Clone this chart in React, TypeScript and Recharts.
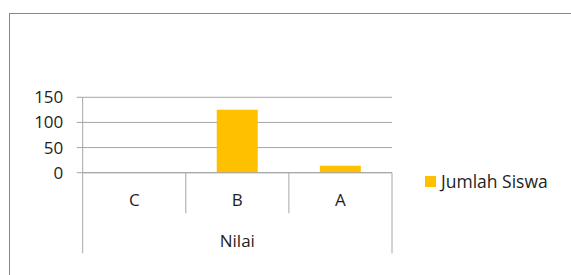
import React from 'react';
import { BarChart, Bar, XAxis, YAxis, CartesianGrid, Legend } from 'recharts';

const categories = ['C', 'B', 'A'];
const jumlahSiswa = [0, 125, 14];
const yTicks = [0, 50, 100, 150];
const seriesName = 'Jumlah Siswa';
const axisTitle = 'Nilai';

const data = categories.map((c, i) => ({ nilai: c, jumlah: jumlahSiswa[i] }));

const W = 571;
const H = 275;
const Y_AXIS_W = 30;
const MARGIN = { top: 97.3, right: 179, bottom: 12.3, left: 52.7 };
const X_AXIS_H = 90;
const PLOT_W = W - MARGIN.left - MARGIN.right - Y_AXIS_W;

const FONT = '"Open Sans", sans-serif';
const FONT_SIZE = 17;
const TEXT = '#1e1e1e';
const GRID = '#a6a6a6';
const BAR = '#FFC000';

function CategoryTick(props: any) {
  const { x, y, payload, index } = props;
  const bw = PLOT_W / categories.length;
  const n = categories.length;
  return (
    <g>
      {index > 0 && (
        <line x1={x - bw / 2} x2={x - bw / 2} y1={y} y2={y + 40.6} stroke={GRID} strokeWidth={1} />
      )}
      {index === 0 && (
        <line x1={x - bw / 2} x2={x - bw / 2} y1={y} y2={y + 80.6} stroke={GRID} strokeWidth={1} />
      )}
      {index === n - 1 && (
        <line x1={x + bw / 2} x2={x + bw / 2} y1={y} y2={y + 80.6} stroke={GRID} strokeWidth={1} />
      )}
      <text
        x={x}
        y={y + 27.3}
        dy="0.36em"
        textAnchor="middle"
        fill={TEXT}
        fontSize={FONT_SIZE}
        fontFamily={FONT}
      >
        {payload.value}
      </text>
      {index === Math.floor(n / 2) && (
        <text
          x={x}
          y={y + 68}
          dy="0.36em"
          textAnchor="middle"
          fill={TEXT}
          fontSize={FONT_SIZE}
          fontFamily={FONT}
        >
          {axisTitle}
        </text>
      )}
    </g>
  );
}

function LegendContent(props: any) {
  const items = props.payload || [];
  return (
    <div style={{ display: 'flex', flexDirection: 'column' }}>
      {items.map((it: any) => (
        <div key={it.value} style={{ display: 'flex', alignItems: 'center' }}>
          <span style={{ display: 'inline-block', width: 11, height: 11, background: it.color, marginRight: 5 }} />
          <span style={{ fontFamily: FONT, fontSize: 17.5, color: TEXT, lineHeight: '20px' }}>{it.value}</span>
        </div>
      ))}
    </div>
  );
}

export default function App() {
  return (
    <div style={{ position: 'absolute', left: 0, top: 0, width: W, height: H, overflow: 'hidden', background: '#fff' }}>
      <div
        style={{
          position: 'absolute',
          left: 9,
          top: 13,
          width: 800,
          height: 500,
          border: '1px solid #878787',
          boxSizing: 'border-box',
        }}
      />
      <div style={{ position: 'absolute', left: 0, top: 0 }}>
        <BarChart width={W} height={H} data={data} margin={MARGIN} barCategoryGap="30%">
          <CartesianGrid horizontal vertical={false} stroke={GRID} />
          <XAxis
            dataKey="nilai"
            height={X_AXIS_H}
            axisLine={{ stroke: GRID }}
            tickLine={false}
            tickSize={0}
            tickMargin={0}
            interval={0}
            tick={<CategoryTick />}
          />
          <YAxis
            width={Y_AXIS_W}
            domain={[0, 150]}
            ticks={yTicks}
            axisLine={{ stroke: GRID }}
            tickLine={{ stroke: GRID }}
            tickSize={6}
            tickMargin={13.4}
            tick={{ fill: TEXT, fontSize: FONT_SIZE, fontFamily: FONT }}
          />
          <Legend
            layout="horizontal"
            verticalAlign="middle"
            align="center"
            wrapperStyle={{ left: 425, top: 171, width: 'auto' }}
            content={<LegendContent />}
          />
          <Bar dataKey="jumlah" name={seriesName} fill={BAR} isAnimationActive={false} />
        </BarChart>
      </div>
    </div>
  );
}
